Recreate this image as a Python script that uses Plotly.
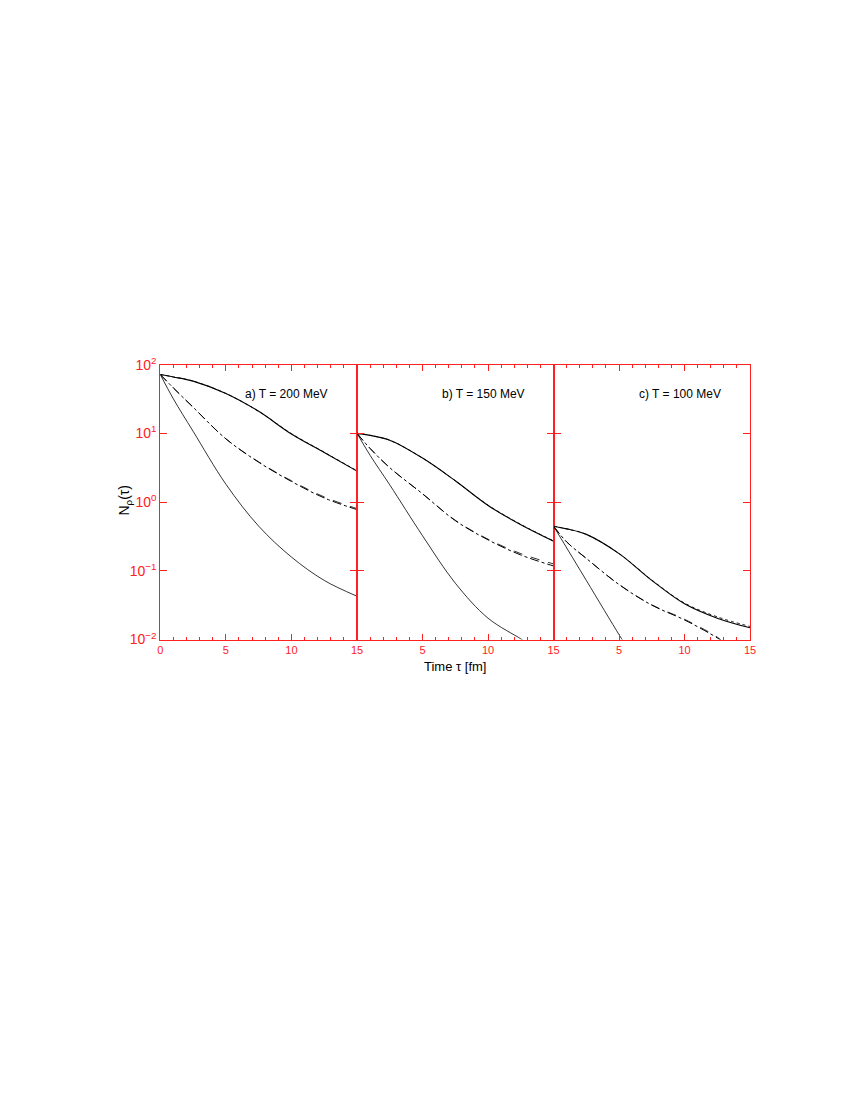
import plotly.graph_objects as go

# ---------------- data (log10 of N_rho) ----------------
t = [0, 1, 2.5, 5, 7.5, 10, 12.5, 15]

# panel a) T = 200 MeV
a_top = [1.855, 1.82, 1.76, 1.58, 1.32, 0.99, 0.72, 0.45]
a_top_dot = [1.855, 1.82, 1.76, 1.58, 1.32, 0.995, 0.725, 0.455]
a_mid = [1.855, 1.66, 1.38, 0.92, 0.58, 0.30, 0.06, -0.11]
a_mid_dash = [1.855, 1.66, 1.38, 0.92, 0.585, 0.31, 0.075, -0.095]
a_bot = [1.855, 1.50, 1.03, 0.26, -0.35, -0.80, -1.14, -1.37]

# panel b) T = 150 MeV
b_top = [1.0, 0.97, 0.90, 0.64, 0.31, -0.05, -0.33, -0.57]
b_top_dot = [1.0, 0.97, 0.90, 0.64, 0.31, -0.045, -0.325, -0.565]
b_mid = [1.0, 0.78, 0.50, 0.12, -0.27, -0.55, -0.77, -0.93]
b_mid_dash = [1.0, 0.78, 0.50, 0.12, -0.265, -0.54, -0.75, -0.90]
b_bot_t = [0, 1, 2.5, 5, 7.5, 10, 12.5, 12.8]
b_bot = [1.0, 0.68, 0.25, -0.49, -1.18, -1.69, -1.99, -2.03]

# panel c) T = 100 MeV
c_top = [-0.352, -0.39, -0.47, -0.75, -1.14, -1.48, -1.69, -1.83]
c_top_dot = [-0.352, -0.39, -0.47, -0.75, -1.135, -1.47, -1.67, -1.81]
c_mid_t = [0, 1, 2.5, 5, 7.5, 10, 12.5, 12.9]
c_mid = [-0.352, -0.58, -0.82, -1.20, -1.50, -1.715, -1.976, -2.03]
c_mid_dash = [-0.352, -0.58, -0.82, -1.20, -1.495, -1.705, -1.965, -2.03]
c_bot_t = [0, 2.5, 5, 5.4]
c_bot = [-0.352, -1.14, -1.93, -2.05]

labels = ["a) T = 200 MeV", "b) T = 150 MeV", "c) T = 100 MeV"]
y_tickvals = [0.01, 0.1, 1, 10, 100]
y_ticktext = ["10<sup>\u22122</sup>", "10<sup>\u22121</sup>", "10<sup>0</sup>",
              "10<sup>1</sup>", "10<sup>2</sup>"]
x_tickvals_first = [0, 5, 10, 15]
x_tickvals_rest = [5, 10, 15]

# ---------------- figure ----------------
W, H = 850, 1100
xl = [159.0, 357.8, 556.5, 755.0]
y_top, y_bot = 360.5, 640.0
RED = "#ff2020"
FONT = "Liberation Sans, Arial, sans-serif"

fig = go.Figure()

panels = [
    [(t, a_top, "solid", 1.1), (t, a_top_dot, "dot", 0.9), (t, a_mid, "dashdot", 1.0),
     (t, a_mid_dash, "dash", 0.8), (t, a_bot, "solid", 0.8)],
    [(t, b_top, "solid", 1.1), (t, b_top_dot, "dot", 0.9), (t, b_mid, "dashdot", 1.0),
     (t, b_mid_dash, "dash", 0.8), (b_bot_t, b_bot, "solid", 0.8)],
    [(t, c_top, "solid", 1.1), (t, c_top_dot, "dot", 0.9), (c_mid_t, c_mid, "dashdot", 1.0),
     (c_mid_t, c_mid_dash, "dash", 0.8), (c_bot_t, c_bot, "solid", 0.8)],
]

for i, series in enumerate(panels):
    sfx = "" if i == 0 else str(i + 1)
    for (tx, ly, dash, w) in series:
        fig.add_trace(go.Scatter(
            x=tx, y=[10 ** v for v in ly], mode="lines",
            line=dict(color="black", width=w, dash=dash, shape="spline", smoothing=1.0),
            xaxis="x" + sfx, yaxis="y" + sfx, showlegend=False, hoverinfo="skip"))

layout = dict(
    width=W, height=H, margin=dict(l=0, r=0, t=0, b=0),
    paper_bgcolor="white", plot_bgcolor="white", showlegend=False,
    font=dict(family=FONT, color="black"),
)
ydom = [1 - y_bot / H, 1 - y_top / H]
for i in range(3):
    sfx = "" if i == 0 else str(i + 1)
    layout["xaxis" + sfx] = dict(
        domain=[xl[i] / W, xl[i + 1] / W], range=[0, 15], anchor="y" + sfx,
        tickvals=x_tickvals_first if i == 0 else x_tickvals_rest,
        ticks="inside", ticklen=6, tickwidth=1, tickcolor=RED,
        minor=dict(dtick=1, ticks="inside", ticklen=3, tickwidth=1, tickcolor=RED),
        showline=True, linecolor=RED, linewidth=1, mirror="ticks",
        showgrid=False, zeroline=False,
        tickfont=dict(color=RED, size=11, family=FONT),
    )
    ydict = dict(
        domain=ydom, type="log", range=[-2, 2], anchor="x" + sfx,
        tickvals=y_tickvals,
        showticklabels=(i == 0),
        ticks="inside", ticklen=7, tickwidth=1, tickcolor=RED,
        showline=True, linecolor=RED, linewidth=1.2, mirror="ticks",
        showgrid=False, zeroline=False,
        tickfont=dict(color=RED, size=14, family=FONT),
    )
    if i == 0:
        ydict["ticktext"] = y_ticktext
    layout["yaxis" + sfx] = ydict
fig.update_layout(**layout)

label_x = [286.2, 486.0, 684.4]
for i, txt in enumerate(labels):
    fig.add_annotation(x=label_x[i] / W, y=1 - 390.0 / H, xref="paper", yref="paper",
                       text=txt, showarrow=False,
                       font=dict(size=12, family=FONT, color="black"),
                       xanchor="center", yanchor="middle")

fig.add_annotation(x=123 / W, y=1 - 498 / H, xref="paper", yref="paper",
                   text="N<sub>\u03c1</sub>(\u03c4)", textangle=-90, showarrow=False,
                   font=dict(size=14, family=FONT, color="black"),
                   xanchor="center", yanchor="middle")
fig.add_annotation(x=457.3 / W, y=1 - 667.5 / H, xref="paper", yref="paper",
                   text="Time \u03c4 [fm]", showarrow=False,
                   font=dict(size=13, family=FONT, color="black"),
                   xanchor="center", yanchor="middle")

fig.write_html("out.html",
               config={"displayModeBar": False},
               post_script="document.body.style.margin='0';document.body.style.overflow='hidden';")
